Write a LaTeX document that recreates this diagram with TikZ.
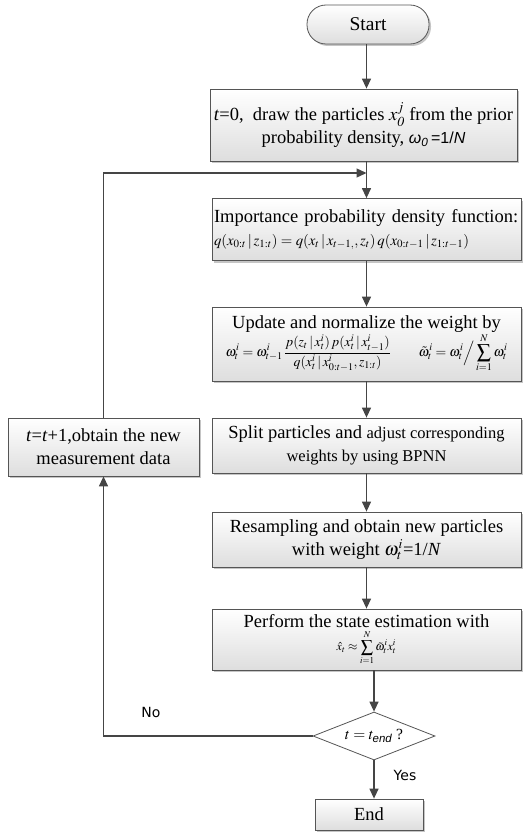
\documentclass[tikz,border=0pt]{standalone}
\usepackage{amsmath}
\usepackage{mathptmx}
\usepackage{fontspec}
\setmainfont{Liberation Serif}
\newfontfamily\lsans{Liberation Sans}
\newfontfamily\dvsans{DejaVu Sans}
\usetikzlibrary{shapes.geometric,arrows.meta,shadows,calc}
\definecolor{edgec}{HTML}{555555}
\definecolor{arrowc}{HTML}{454545}
\newcommand{\smallfs}{\fontsize{16.5}{20}\selectfont}
\begin{document}
\begin{tikzpicture}[x=1pt,y=-1pt,
  fc/.style={draw=edgec, line width=0.8pt, top color=white, bottom color=black!13,
    drop shadow={shadow xshift=2pt,shadow yshift=-2pt,fill=black!45,opacity=0.5},
    inner sep=1pt, align=center, font=\fontsize{18.5}{23}\selectfont},
  mainbox/.style={fc, minimum width=309pt},
  arr/.style={draw=arrowc, line width=1.3pt, -{Triangle[length=10pt,width=9pt]}},
  lbl/.style={font=\dvsans\fontsize{14}{16}\selectfont}
]
\useasboundingbox (0,0) rectangle (523,832);

\node[fc, rounded corners=19pt, minimum width=122pt, minimum height=39pt, font=\fontsize{19.5}{23}\selectfont] (start) at (368,24.5) {Start};

\node[fc, minimum width=307pt, minimum height=72pt] (init) at (363.5,125)
  {\textit{t}=0,\ \ draw the particles $x^{j}_{\mathit{0}}$ from the prior\\
   probability density, {\lsans\fontsize{16}{18}\selectfont\itshape ω\textsubscript{0}\upshape\,=1/\itshape N}};

\node[mainbox, minimum height=62pt, align=left, text width=305pt] (imp) at (366.5,229.5)
  {Importance probability density function:\\
   {\fontsize{14.8}{18}\selectfont $q(x_{0:t}\,|\,z_{1:t}) = q(x_t\,|\,x_{t-1,},z_t)\,q(x_{0:t-1}\,|\,z_{1:t-1})$}};

\node[mainbox, minimum height=74pt] (upd) at (366.5,344)
  {Update and normalize the weight by\\
   {\fontsize{13.8}{16}\selectfont $\displaystyle \omega_t^i = \omega_{t-1}^i\,\frac{p(z_t\,|\,x_t^i)\,p(x_t^i\,|\,x_{t-1}^i)}{q(x_t^i\,|\,x_{0:t-1}^i,z_{1:t})}\qquad \tilde{\omega}_t^i = \omega_t^i\Big/\sum_{i=1}^{N}\omega_t^i$}};

\node[mainbox, minimum height=55pt] (split) at (366.5,445.5)
  {Split particles and {\smallfs adjust corresponding}\\
   {\smallfs weights by using BPNN}};

\node[mainbox, minimum height=55pt] (resamp) at (366.5,539.5)
  {Resampling and obtain new particles\\
   with weight $\omega^{i}_{t}$=1/\textit{N}};

\node[mainbox, minimum height=61pt] (perf) at (366.5,639.5)
  {Perform the state estimation with\\
   {\fontsize{12}{14}\selectfont $\displaystyle \hat{x}_t \approx \sum_{i=1}^{N}\tilde{\omega}_t^i x_t^i$}};

\node[draw=edgec, line width=0.8pt, fill=white, diamond, minimum width=122pt, minimum height=48pt, inner sep=0pt] (dia) at (374,736) {};
\node[font=\fontsize{15.5}{18}\selectfont] (diatext) at (dia.center) {$t = t_{\text{\lsans\itshape end}}$ ?};

\node[fc, minimum width=108pt, minimum height=31pt] (end) at (369,814.5) {End};

\node[fc, minimum width=191pt, minimum height=58pt] (left) at (103.5,447)
  {\textit{t}=\textit{t}+1,obtain the new\\ measurement data};

\coordinate (join) at (366.5,173);

\draw[arr] (start.south -| imp.north) -- (init.north -| imp.north);
\draw[arr] (init.south -| imp.north) -- (imp.north);
\draw[arr] (imp.south) -- (upd.north);
\draw[arr] (upd.south) -- (split.north);
\draw[arr] (split.south) -- (resamp.north);
\draw[arr] (resamp.south) -- (perf.north);
\draw[arr] (perf.south -| dia.north) -- (dia.north);
\draw[arr] (dia.south) -- (end.north -| dia.south);
\draw[arr] (left.north) |- (join);
\draw[arr] (dia.west) -| (left.south);

\node[lbl] (no) at (151,712) {No};
\node[lbl] (yes) at (405,775) {Yes};
\end{tikzpicture}
\end{document}
